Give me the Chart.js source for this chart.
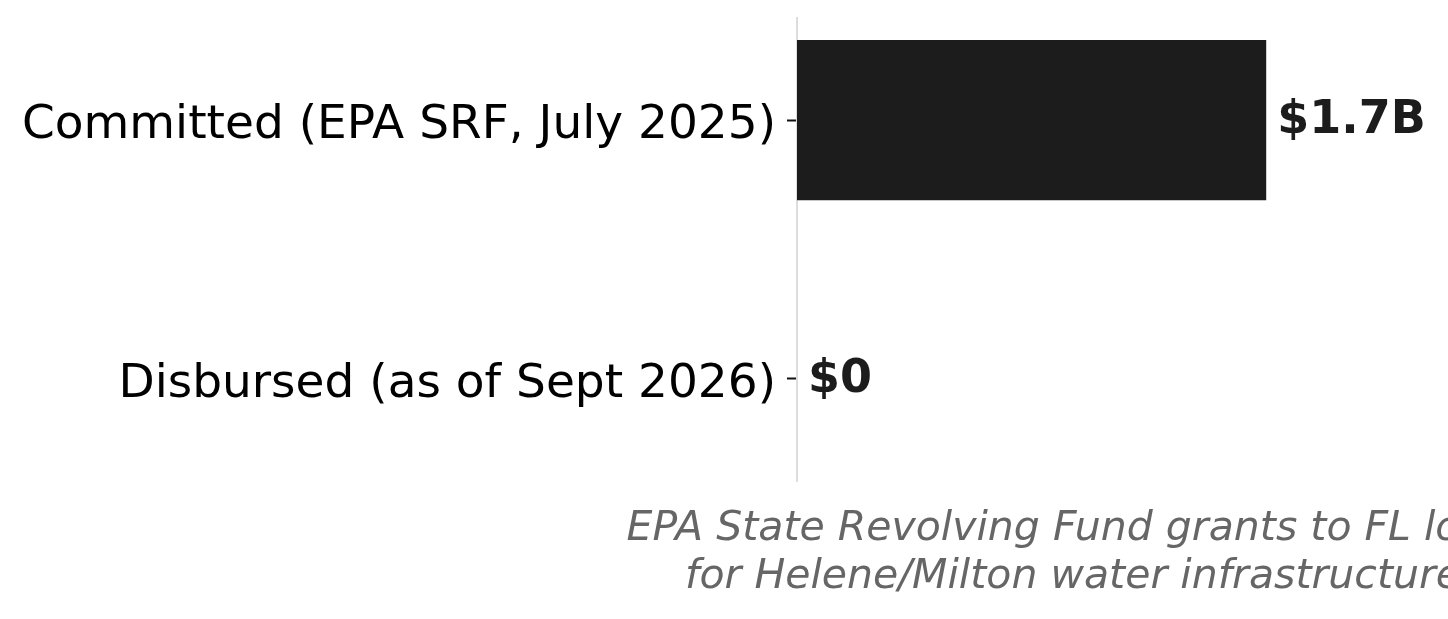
<!DOCTYPE html>
<html>
<head>
<meta charset="utf-8">
<script src="https://cdn.jsdelivr.net/npm/chart.js@4.4.1/dist/chart.umd.min.js"></script>
<style>
  html, body { margin: 0; padding: 0; background: #fff; overflow: hidden; }
  #wrap { width: 1448px; height: 619px; }
</style>
</head>
<body>
<div id="wrap"><canvas id="chart"></canvas></div>
<script>
// data (billions of dollars)
const categories = ['Committed (EPA SRF, July 2025)', 'Disbursed (as of Sept 2026)'];
const values = [1.7, 0];
const valueLabels = ['$1.7B', '$0'];
const axisTitle = ['EPA State Revolving Fund grants to FL local', 'for Helene/Milton water infrastructure'];
const xMax = 2.0;

const barLabels = {
  id: 'barLabels',
  afterDatasetsDraw(chart) {
    const ctx = chart.ctx;
    const meta = chart.getDatasetMeta(0);
    ctx.save();
    ctx.font = 'bold 46px "DejaVu Sans"';
    ctx.fillStyle = '#1c1c1c';
    ctx.textBaseline = 'middle';
    ctx.textAlign = 'left';
    meta.data.forEach((bar, i) => {
      ctx.fillText(valueLabels[i], bar.x + 11, bar.y + 1);
    });
    ctx.restore();
  }
};

// drawn by hand so the text is not squeezed to the chart area width
const xTitle = {
  id: 'xTitle',
  afterDraw(chart) {
    const ctx = chart.ctx;
    const area = chart.chartArea;
    const cx = (area.left + area.right) / 2;
    ctx.save();
    ctx.font = 'italic 41px "DejaVu Sans"';
    ctx.fillStyle = '#666666';
    ctx.textAlign = 'center';
    ctx.textBaseline = 'middle';
    axisTitle.forEach((line, i) => {
      ctx.fillText(line, cx, area.bottom + 48 + i * 48);
    });
    ctx.restore();
  }
};

new Chart(document.getElementById('chart'), {
  type: 'bar',
  data: {
    datasets: [{
      data: values.map((v, i) => ({ x: v, y: i })),
      backgroundColor: '#1c1c1c',
      borderWidth: 0,
      barPercentage: 0.62,
      categoryPercentage: 1
    }]
  },
  options: {
    indexAxis: 'y',
    responsive: true,
    maintainAspectRatio: false,
    animation: false,
    layout: { padding: { top: 18, right: 99, left: 0, bottom: 0 } },
    plugins: {
      legend: { display: false },
      tooltip: { enabled: false }
    },
    scales: {
      x: {
        type: 'linear',
        min: 0,
        max: xMax,
        offset: false,
        ticks: { display: false },
        grid: { display: false, offset: false },
        border: { display: false },
        afterFit(scale) { scale.height = 138; }
      },
      y: {
        type: 'linear',
        reverse: true,
        min: -0.395,
        max: 1.395,
        offset: false,
        afterBuildTicks(scale) {
          scale.ticks = categories.map((c, i) => ({ value: i }));
        },
        ticks: {
          callback: (v) => categories[v],
          font: { family: 'DejaVu Sans', size: 47 },
          color: '#000',
          padding: 11,
          labelOffset: 6
        },
        grid: {
          offset: false,
          drawOnChartArea: false,
          tickLength: 10,
          tickColor: '#111',
          tickWidth: 2
        },
        border: { color: '#dddddd', width: 2 },
        afterFit(scale) {
          scale.width = 797;
          scale.paddingTop = 0;
          scale.paddingBottom = 0;
        }
      }
    }
  },
  plugins: [barLabels, xTitle]
});
</script>
</body>
</html>
